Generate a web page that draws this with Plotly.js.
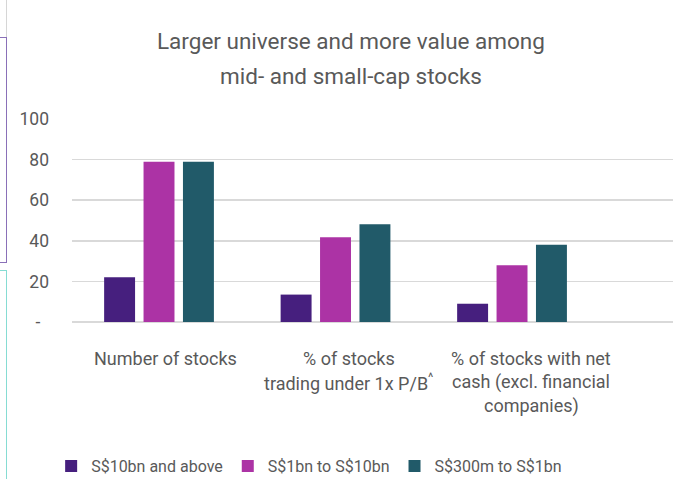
<!DOCTYPE html>
<html>
<head>
<meta charset="utf-8">
<script src="https://cdn.plot.ly/plotly-3.0.1.min.js"></script>
<style>
  html, body { margin: 0; padding: 0; background: #fff; }
  #wrap { position: relative; width: 673px; height: 479px; overflow: hidden; }
  #chart { width: 673px; height: 479px; }
  .deco { position: absolute; box-sizing: border-box; pointer-events: none; }
</style>
</head>
<body>
<div id="wrap">
  <div id="chart"></div>
  <div class="deco" style="left:6px;top:0;width:1px;height:37px;background:#d6d6d6;"></div>
  <div class="deco" style="left:-10px;top:37px;width:17px;height:226px;border:1.5px solid #8a70b8;"></div>
  <div class="deco" style="left:-10px;top:270px;width:17px;height:230px;border:1.5px solid #86dcd3;"></div>
</div>
<script>
const categories = ["Number of stocks", "% of stocks<br>trading under 1x P/B<sup>^</sup>", "% of stocks with net<br>cash (excl. financial<br>companies)"];
const seriesNames = ["S$10bn and above", "S$1bn to S$10bn", "S$300m to S$1bn"];
const large = [22, 13.5, 9];
const mid = [79, 41.7, 28];
const small = [79, 48.2, 38];
const yTickVals = [0, 20, 40, 60, 80, 100];
const yTickText = ["-\u00a0\u00a0", "20", "40", "60", "80", "100"];
const titleLines = ["Larger universe and more value among", "mid- and small-cap stocks"];

const colors = ["#461f7e", "#ac33a5", "#215a69"];
const gray = "#595959";
const font = "Roboto, 'Open Sans', sans-serif";
const catIdx = categories.map((c, i) => i);

const traces = [large, mid, small].map((vals, i) => ({
  type: "bar",
  x: catIdx,
  y: vals,
  name: seriesNames[i],
  marker: { color: colors[i], line: { width: 0 } },
  hoverinfo: "skip"
}));

const labelShift = [6, 13, 19];
const annotations = [];
categories.forEach((c, i) => {
  c.split("<br>").forEach((line, j) => {
    annotations.push({
      text: line, x: i, xref: "x", y: 0, yref: "paper", yanchor: "middle", xanchor: "center",
      yshift: -36.5 - j * 23.5, xshift: labelShift[i], showarrow: false,
      font: { family: font, size: 18, color: gray }
    });
  });
});
titleLines.forEach((t, i) => {
  annotations.push({
    text: t, x: 0.464, xref: "paper", y: 1, yref: "paper", yanchor: "middle", xanchor: "center",
    yshift: 78 - i * 35, showarrow: false,
    font: { family: font, size: 22.5, color: gray }
  });
});

const layout = {
  width: 673, height: 479,
  margin: { l: 72, r: 0, t: 119, b: 157 },
  paper_bgcolor: "#ffffff", plot_bgcolor: "#ffffff",
  font: { family: font, size: 18, color: gray },
  barmode: "group", bargap: 0.33, bargroupgap: 0.215,
  showlegend: true,
  legend: { orientation: "h", xref: "container", x: 0.076, xanchor: "left",
            yref: "container", y: 0.027, yanchor: "middle",
            font: { family: font, size: 16, color: gray }, itemclick: false },
  xaxis: { range: [-0.493, 2.912], showticklabels: false, showgrid: false, zeroline: false,
           showline: false, ticks: "", fixedrange: true },
  yaxis: { range: [0, 100], tickvals: yTickVals, ticktext: yTickText, showgrid: true,
           gridcolor: "#d9d9d9", gridwidth: 1.5, zeroline: true, zerolinecolor: "#d9d9d9",
           zerolinewidth: 1.5, showline: false, ticks: "", ticklabelstandoff: 22,
           tickfont: { family: font, size: 17.5, color: gray }, fixedrange: true },
  annotations: annotations
};

Plotly.newPlot("chart", traces, layout, { displayModeBar: false, staticPlot: true });
</script>
</body>
</html>
